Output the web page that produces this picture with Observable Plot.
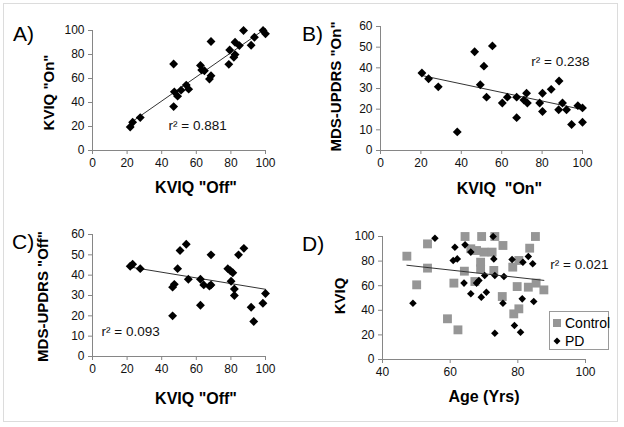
<!DOCTYPE html>
<html>
<head>
<meta charset="utf-8">
<script src="https://cdn.jsdelivr.net/npm/d3@7"></script>
<script src="https://cdn.jsdelivr.net/npm/@observablehq/plot@0.6"></script>
<style>
  body { margin: 0; background: #fff; font-family: Arial, "Liberation Sans", sans-serif; }
  #fig { position: relative; width: 624px; height: 427px; overflow: hidden; background: #fff; }
  #frame { position: absolute; left: 3px; top: 3px; width: 613px; height: 417px; border: 1px solid #dcdcdc; }
  .panel { position: absolute; }
  .letter { position: absolute; font-size: 21px; color: #000; line-height: 1; }
  #legend { position: absolute; left: 549px; top: 311px; width: 58px; height: 37px; border: 1px solid #9a9a9a; background: #fff; font-size: 14px; }
  #legend .row { position: absolute; left: 2px; display: flex; align-items: center; }
  #legend svg { display: block; margin-right: 3px; }
</style>
</head>
<body>
<div id="fig">
  <div id="frame"></div>
</div>
<script>
// ---------- Data ----------
// Panel A: KVIQ "Off" vs KVIQ "On"
const aOff = [21.8, 23.2, 27.6, 46.9, 46.9, 47.3, 49.2, 51.2, 54.2, 55.6, 62.4, 63.1, 64.7, 68.5, 67.6, 68.5, 78.8, 79.3, 81.7, 82.4, 82.4, 84.9, 87.3, 91.7, 93.6, 98.6, 100];
const aOn  = [19.6, 23.5, 27.4, 72.1, 36.6, 48.9, 45.3, 50.3, 54.5, 51.1, 70.9, 67.0, 66.5, 90.8, 59.5, 62.3, 71.8, 83.8, 77.7, 90.2, 79.9, 87.4, 100, 87.7, 94.4, 100, 97.2];

// Panel B: KVIQ "On" vs MDS-UPDRS "On"
const bOn     = [20.5, 23.8, 28.6, 38.0, 46.6, 49.4, 51.2, 52.5, 55.4, 60.3, 62.8, 67.4, 67.4, 71.0, 72.3, 72.7, 78.8, 80.2, 80.2, 84.5, 88.4, 88.2, 90.1, 92.1, 94.6, 97.7, 100, 100];
const bUpdrs  = [37.5, 34.7, 30.8, 9.0, 47.8, 31.8, 40.8, 25.8, 50.6, 23.0, 25.8, 25.8, 15.9, 24.4, 27.7, 23.0, 23.0, 27.7, 18.9, 29.6, 33.6, 19.7, 23.0, 19.7, 12.6, 21.7, 20.6, 13.7];

// Panel C: KVIQ "Off" vs MDS-UPDRS "Off"
const cOff    = [21.8, 23.2, 27.6, 46.3, 47.3, 46.3, 49.2, 50.6, 54.2, 55.4, 62.4, 62.4, 64.3, 68.5, 67.6, 68.5, 78.2, 79.7, 81.1, 80.1, 82.0, 82.0, 84.4, 87.5, 91.7, 93.2, 98.5, 100];
const cUpdrs  = [44.4, 45.4, 43.2, 34.1, 35.5, 20.0, 43.2, 52.1, 55.2, 38.0, 38.0, 25.2, 35.2, 50.0, 34.6, 35.2, 43.2, 42.2, 41.2, 37.0, 33.2, 30.0, 50.0, 53.2, 24.2, 17.2, 26.2, 31.0];

// Panel D: Age vs KVIQ, Control and PD
const ctrlAge  = [47.2, 50.1, 53.3, 53.3, 59.2, 62.3, 61.1, 64.4, 64.2, 66.1, 67.8, 69.3, 69.0, 69.0, 67.3, 70.0, 72.4, 73.2, 72.9, 75.6, 75.4, 78.5, 79.8, 80.3, 78.8, 80.3, 83.1, 83.5, 85.2, 85.4, 87.7];
const ctrlKviq = [84.0, 60.7, 94.0, 74.3, 33.1, 24.1, 62.1, 100, 71.8, 90.0, 88.6, 100, 79.1, 73.7, 63.4, 87.3, 87.3, 100, 72.4, 92.7, 51.2, 75.1, 59.3, 80.5, 37.1, 41.2, 58.8, 90.5, 100, 62.1, 56.6];
const pdAge    = [49.0, 55.5, 61.4, 60.9, 62.1, 64.4, 64.1, 66.1, 66.1, 67.8, 68.5, 69.2, 70.2, 70.7, 72.7, 72.9, 73.2, 73.2, 75.9, 75.6, 78.3, 79.0, 80.8, 81.3, 81.5, 83.1, 84.4, 84.7];
const pdKviq   = [45.8, 98.6, 91.3, 80.5, 81.8, 93.2, 62.1, 87.3, 53.4, 62.1, 64.2, 50.7, 68.3, 54.7, 100, 81.8, 68.3, 21.4, 67.5, 45.8, 81.3, 27.6, 22.2, 49.3, 79.1, 83.7, 77.8, 47.2];

// Ticks and labels
const ticks0to100 = [0, 20, 40, 60, 80, 100];
const ticks0to60  = [0, 10, 20, 30, 40, 50, 60];
const ticksAge    = [40, 60, 80, 100];
const letters = ["A)", "B)", "C)", "D)"];
const xLabels = ['KVIQ "Off"', 'KVIQ  "On"', 'KVIQ "Off"', "Age (Yrs)"];
const yLabels = ['KVIQ "On"', 'MDS-UPDRS "On"', 'MDS-UPDRS "Off"', "KVIQ"];
const r2Labels = ["r\u00b2 = 0.881", "r\u00b2 = 0.238", "r\u00b2 = 0.093", "r\u00b2 = 0.021"];
const legendLabels = ["Control", "PD"];

// ---------- Drawing ----------
const FONT = 'Arial, "Liberation Sans", sans-serif';
const AXIS = "#868686";
const zip = (xs, ys, extra = {}) => xs.map((x, i) => ({x, y: ys[i], ...extra}));

function panel(o) {
  const marks = [
    Plot.ruleY([o.yDomain[0]], {stroke: AXIS}),
    Plot.ruleX([o.xDomain[0]], {stroke: AXIS}),
    Plot.axisX({ticks: o.xTicks, tickSize: 4, tickPadding: 4, stroke: AXIS, fill: "#111", fontSize: 12, label: null}),
    Plot.axisY({ticks: o.yTicks, tickSize: 4, tickPadding: 4, stroke: AXIS, fill: "#111", fontSize: 12, label: null}),
    ...o.dataMarks,
    Plot.text([o.xLabel], {text: d => d, frameAnchor: "bottom", textAnchor: "middle", dx: o.xlDx, dy: o.xlDy, fontSize: 16, fontWeight: "bold", fill: "#000"}),
    Plot.text([o.yLabel], {text: d => d, frameAnchor: "left", textAnchor: "middle", rotate: -90, dx: o.ylDx, dy: o.ylDy || 0, fontSize: 15, fontWeight: "bold", fill: "#000"}),
    Plot.text([o.r2], {text: d => d, frameAnchor: o.r2Anchor, textAnchor: o.r2TextAnchor, dx: o.r2Dx, dy: o.r2Dy, fontSize: 13.5, fill: "#111"})
  ];
  const svg = Plot.plot({
    width: o.width, height: o.height,
    marginLeft: o.ml, marginRight: o.mr, marginTop: o.mt, marginBottom: o.mb,
    style: {fontFamily: FONT, fontSize: "12px", color: "#000", background: "transparent", overflow: "visible"},
    x: {domain: o.xDomain},
    y: {domain: o.yDomain},
    marks
  });
  svg.classList.add("panel");
  svg.style.left = o.left + "px";
  svg.style.top = o.top + "px";
  document.getElementById("fig").appendChild(svg);
}

const dataA = zip(aOff, aOn);
const dataB = zip(bOn, bUpdrs);
const dataC = zip(cOff, cUpdrs);
const dataCtrl = zip(ctrlAge, ctrlKviq, {g: "Control"});
const dataPD = zip(pdAge, pdKviq, {g: "PD"});
const dataD = dataCtrl.concat(dataPD);

const diamonds = (data, r) => Plot.dot(data, {x: "x", y: "y", symbol: "diamond2", r, fill: "#000", stroke: "none"});
const trend = (data) => Plot.linearRegressionY(data, {x: "x", y: "y", stroke: "#333", strokeWidth: 1, ci: 0});

panel({
  left: 0, top: 0, width: 312, height: 213, ml: 92, mr: 47, mt: 30, mb: 63,
  xDomain: [0, 100], yDomain: [0, 100], xTicks: ticks0to100, yTicks: ticks0to100,
  dataMarks: [trend(dataA), diamonds(dataA, 4)],
  xLabel: xLabels[0], xlDx: 17, xlDy: 42,
  yLabel: yLabels[0], ylDx: -43, ylDy: 2,
  r2: r2Labels[0], r2Anchor: "bottom-left", r2TextAnchor: "start", r2Dx: 76, r2Dy: -21
});
panel({
  left: 312, top: 0, width: 312, height: 213, ml: 68, mr: 42, mt: 26, mb: 63,
  xDomain: [0, 100], yDomain: [0, 60], xTicks: ticks0to100, yTicks: ticks0to60,
  dataMarks: [trend(dataB), diamonds(dataB, 4)],
  xLabel: xLabels[1], xlDx: 18, xlDy: 43,
  yLabel: yLabels[1], ylDx: -44, ylDy: -2,
  r2: r2Labels[1], r2Anchor: "top-right", r2TextAnchor: "end", r2Dx: 7, r2Dy: 30
});
panel({
  left: 0, top: 213, width: 312, height: 214, ml: 92, mr: 47, mt: 21, mb: 71,
  xDomain: [0, 100], yDomain: [0, 60], xTicks: ticks0to100, yTicks: ticks0to60,
  dataMarks: [trend(dataC), diamonds(dataC, 4)],
  xLabel: xLabels[2], xlDx: 17, xlDy: 47,
  yLabel: yLabels[2], ylDx: -49, ylDy: 1,
  r2: r2Labels[2], r2Anchor: "bottom-left", r2TextAnchor: "start", r2Dx: 9, r2Dy: -21
});
panel({
  left: 312, top: 213, width: 312, height: 214, ml: 70, mr: 39, mt: 23, mb: 68,
  xDomain: [40, 100], yDomain: [0, 100], xTicks: ticksAge, yTicks: ticks0to100,
  dataMarks: [
    Plot.dot(dataCtrl, {x: "x", y: "y", symbol: "square", r: 5, fill: "#969696", stroke: "none"}),
    diamonds(dataPD, 3.4),
    trend(dataD)
  ],
  xLabel: xLabels[3], xlDx: 0, xlDy: 42,
  yLabel: yLabels[3], ylDx: -42, ylDy: -2,
  r2: r2Labels[3], r2Anchor: "top-right", r2TextAnchor: "end", r2Dx: 23, r2Dy: 23
});

// Panel letters
const fig = document.getElementById("fig");
const letterPos = [[13, 23], [302, 23], [12, 231], [302, 233]];
letters.forEach((t, i) => {
  const d = document.createElement("div");
  d.className = "letter";
  d.textContent = t;
  d.style.left = letterPos[i][0] + "px";
  d.style.top = letterPos[i][1] + "px";
  fig.appendChild(d);
});

// Legend for panel D
const legend = document.createElement("div");
legend.id = "legend";
const rowsTop = [3, 21];
legendLabels.forEach((lab, i) => {
  const row = document.createElement("div");
  row.className = "row";
  row.style.top = rowsTop[i] + "px";
  const ns = "http://www.w3.org/2000/svg";
  const s = document.createElementNS(ns, "svg");
  s.setAttribute("width", 10); s.setAttribute("height", 12);
  const p = document.createElementNS(ns, "path");
  p.setAttribute("d", i === 0 ? "M1,2H9V10H1Z" : "M5,2.5L8.5,6L5,9.5L1.5,6Z");
  p.setAttribute("fill", i === 0 ? "#969696" : "#000");
  s.appendChild(p);
  row.appendChild(s);
  const span = document.createElement("span");
  span.textContent = lab;
  row.appendChild(span);
  legend.appendChild(row);
});
fig.appendChild(legend);
</script>
</body>
</html>
